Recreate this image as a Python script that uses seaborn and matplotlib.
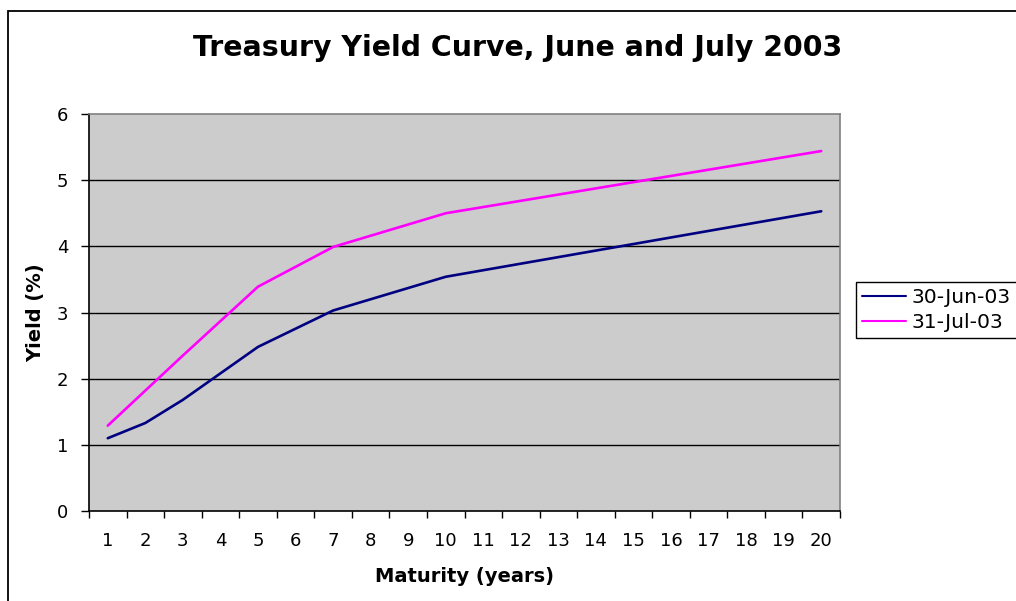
import numpy as np
import pandas as pd
import matplotlib
matplotlib.use('Agg')
import matplotlib.pyplot as plt
import seaborn as sns
from matplotlib.patches import Rectangle

# Data
maturity = [1, 2, 3, 5, 7, 10, 20]
yield_jun = [1.10, 1.33, 1.68, 2.48, 3.03, 3.54, 4.53]
yield_jul = [1.29, 1.82, 2.35, 3.39, 3.99, 4.50, 5.44]
series_names = ['30-Jun-03', '31-Jul-03']
series_colors = ['#000080', '#FF00FF']
x_categories = list(range(1, 21))
y_ticks = [0, 1, 2, 3, 4, 5, 6]


def build_frame():
    rows = []
    for name, vals in zip(series_names, [yield_jun, yield_jul]):
        for m, v in zip(maturity, vals):
            rows.append({'maturity': m, 'yield': v, 'date': name})
    return pd.DataFrame(rows)


def draw():
    sns.set_style('white')
    plt.rcParams['font.family'] = ['DejaVu Sans']
    plt.rcParams['text.color'] = 'black'
    plt.rcParams['axes.labelcolor'] = 'black'
    plt.rcParams['xtick.color'] = 'black'
    plt.rcParams['ytick.color'] = 'black'

    df = build_frame()
    fig = plt.figure(figsize=(10.16, 6.01), dpi=100)
    ax = fig.add_axes([89 / 1016, 1 - 511 / 601, (840 - 89) / 1016, (511 - 114) / 601])
    ax.set_facecolor('#CCCCCC')

    sns.lineplot(data=df, x='maturity', y='yield', hue='date',
                 palette=dict(zip(series_names, series_colors)),
                 linewidth=1.9, ax=ax, legend=True)

    ax.set_xlim(0.5, 20.5)
    ax.set_ylim(0, 6)

    # category style x axis: ticks between, labels centered
    ax.set_xticks(np.arange(0.5, 21, 1))
    ax.set_xticklabels([])
    ax.set_xticks(x_categories, minor=True)
    ax.set_xticklabels([str(c) for c in x_categories], minor=True, fontsize=13)
    ax.tick_params(axis='x', which='major', bottom=True, direction='out',
                   length=5, width=1, color='black')
    ax.tick_params(axis='x', which='minor', bottom=True, length=0, pad=15)

    ax.set_yticks(y_ticks)
    ax.set_yticklabels([str(t) for t in y_ticks], fontsize=13)
    ax.tick_params(axis='y', left=True, direction='out', length=6, width=1,
                   color='black', pad=9)

    for t in y_ticks[1:-1]:
        ax.axhline(t, color='black', linewidth=1, zorder=1)

    ax.spines['left'].set_color('black')
    ax.spines['bottom'].set_color('black')
    ax.spines['top'].set_color('#808080')
    ax.spines['right'].set_color('#808080')
    for s in ax.spines.values():
        s.set_linewidth(1.2)

    ax.set_xlabel('Maturity (years)', fontsize=14, fontweight='bold', labelpad=12)
    ax.set_ylabel('Yield (%)', fontsize=14, fontweight='bold', labelpad=8)

    fig.text(518 / 1016, 1 - 48 / 601, 'Treasury Yield Curve, June and July 2003',
             ha='center', va='center', fontsize=20.4, fontweight='bold')

    handles, labels = ax.get_legend_handles_labels()
    ax.legend(handles, labels, loc='upper left',
              bbox_to_anchor=(856 / 1016, 1 - 282 / 601), bbox_transform=fig.transFigure,
              fontsize=14.6, frameon=True, fancybox=False, edgecolor='black',
              framealpha=1, handlelength=2.15, handletextpad=0.3, borderpad=0.3,
              labelspacing=0.3, borderaxespad=0)
    ax.get_legend().get_frame().set_linewidth(1.0)
    for line in ax.get_legend().get_lines():
        line.set_linewidth(1.5)

    # outer chart border (cropped at right and bottom)
    fig.patches.append(Rectangle((8 / 1016, -0.05), 1.1, 1 - 11 / 601 + 0.05,
                                 transform=fig.transFigure, fill=False,
                                 edgecolor='black', linewidth=1.3))

    fig.savefig('out.png', dpi=100)


if __name__ == '__main__':
    draw()
